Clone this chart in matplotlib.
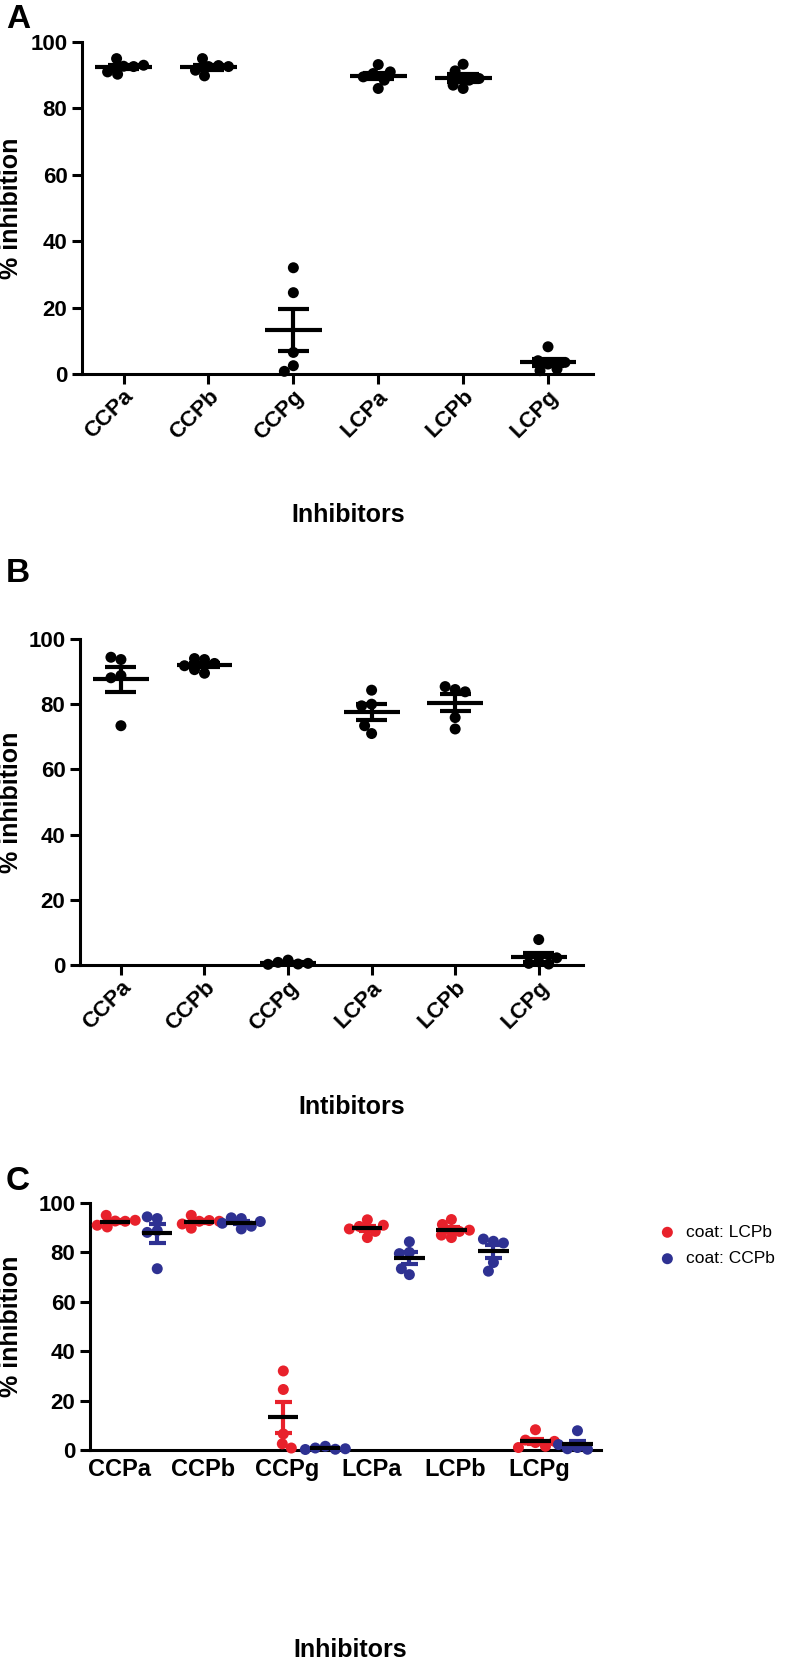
import matplotlib.pyplot as plt
import matplotlib.transforms as mtransforms
import numpy as np

plt.rcParams['font.family'] = ['Liberation Sans', 'DejaVu Sans']
plt.rcParams['font.weight'] = 'bold'
plt.rcParams['axes.labelweight'] = 'bold'

# inhibitor names on the x axis
inhibitors = ['CCPa', 'CCPb', 'CCPg', 'LCPa', 'LCPb', 'LCPg']

# panel A: coat LCPb (% inhibition, one value per replicate)
ccpa_lcpb = [92.7, 95.0, 92.6, 90.3, 91.0, 93.0]
ccpb_lcpb = [92.6, 95.0, 92.9, 89.8, 91.5, 92.6]
ccpg_lcpb = [32.0, 24.5, 6.5, 2.5, 0.8]
lcpa_lcpb = [93.2, 86.0, 90.5, 88.5, 91.0, 89.5]
lcpb_lcpb = [93.3, 86.0, 87.0, 91.3, 88.5, 89.0]
lcpg_lcpb = [8.2, 3.0, 4.0, 1.5, 1.0, 3.5]

# panel B: coat CCPb
ccpa_ccpb = [93.7, 94.4, 88.8, 88.1, 73.4]
ccpb_ccpb = [93.7, 94.0, 89.5, 90.6, 92.5, 91.8]
ccpg_ccpb = [1.5, 0.8, 0.3, 0.2, 0.5]
lcpa_ccpb = [84.3, 80.0, 71.0, 73.4, 79.5]
lcpb_ccpb = [84.5, 85.4, 83.8, 75.9, 72.4]
lcpg_ccpb = [7.8, 1.0, 0.5, 0.3, 2.2]

coat_lcpb = [ccpa_lcpb, ccpb_lcpb, ccpg_lcpb, lcpa_lcpb, lcpb_lcpb, lcpg_lcpb]
coat_ccpb = [ccpa_ccpb, ccpb_ccpb, ccpg_ccpb, lcpa_ccpb, lcpb_ccpb, lcpg_ccpb]

RED = '#e8212b'
BLUE = '#2e3192'
DOT = 11  # marker diameter in px

W, H = 789, 1669
fig = plt.figure(figsize=(W / 100, H / 100), dpi=100)


def box(l, r, t, b):
    return [l / W, 1 - b / H, (r - l) / W, (b - t) / H]


def swarm(ax, vals, xc):
    # spread points sideways so that dots don't overlap (like a GraphPad scatter)
    p0 = ax.transData.transform((0, 0))
    p1 = ax.transData.transform((1, 100))
    sx = p1[0] - p0[0]
    sy = (p1[1] - p0[1]) / 100
    cands = sorted(np.arange(-40, 41, 1.0), key=abs)
    placed, xs = [], []
    for v in vals:
        y = v * sy
        for c in cands:
            if all((c - px) ** 2 + (y - py) ** 2 >= (DOT * 0.9) ** 2 for px, py in placed):
                break
        placed.append((c, y))
        xs.append(xc + c / sx)
    return xs


def draw_group(ax, vals, x, color, mean_w, cap_w, err_color, mean_color='black'):
    ax.scatter(swarm(ax, vals, x), vals, s=(DOT / 1.389) ** 2, color=color,
               edgecolors='none', clip_on=False, zorder=3)
    m = np.mean(vals)
    se = np.std(vals, ddof=1) / np.sqrt(len(vals))
    ax.vlines(x, m - se, m + se, color=err_color, lw=3, zorder=4)
    ax.hlines([m - se, m + se], x - cap_w / 2, x + cap_w / 2, color=err_color, lw=3, zorder=4)
    ax.hlines(m, x - mean_w / 2, x + mean_w / 2, color=mean_color, lw=3, zorder=5)


def style(ax):
    for s in ['top', 'right']:
        ax.spines[s].set_visible(False)
    for s in ['left', 'bottom']:
        ax.spines[s].set_linewidth(2.2)
    ax.set_ylim(0, 100)
    ax.set_yticks(range(0, 101, 20))
    ax.tick_params(width=2.2, length=7, labelsize=16, direction='out')


def single_panel(ax, data, xlabel):
    ax.set_xlim(-0.49, 5.53)
    style(ax)
    for i, vals in enumerate(data):
        draw_group(ax, vals, i, 'black', 0.67, 0.37, 'black')
    ax.set_xticks(range(len(inhibitors)))
    ax.set_xticklabels(inhibitors, rotation=45, ha='right', va='center',
                       rotation_mode='anchor', fontsize=16)
    ax.tick_params(axis='x', pad=7)
    shift = mtransforms.ScaledTranslation(7 / 100, 0, fig.dpi_scale_trans)
    for lab in ax.get_xticklabels():
        lab.set_transform(lab.get_transform() + shift)
    ax.set_ylabel('% inhibition', fontsize=18)
    ax.set_xlabel(xlabel, fontsize=18)


axA = fig.add_axes(box(82, 593, 42, 374))
single_panel(axA, coat_lcpb, 'Inhibitors')
axA.yaxis.set_label_coords(-0.115, 0.5)
axA.xaxis.set_label_coords(0.52, -0.39)

axB = fig.add_axes(box(80, 583, 639, 965))
single_panel(axB, coat_ccpb, 'Intibitors')
axB.yaxis.set_label_coords(-0.113, 0.5)
axB.xaxis.set_label_coords(0.54, -0.40)

# panel C: both coats side by side
axC = fig.add_axes(box(90, 601, 1203, 1450))
axC.set_xlim(-0.3, 5.78)
style(axC)
for i in range(len(inhibitors)):
    draw_group(axC, coat_lcpb[i], i, RED, 0.36, 0.2, RED)
    draw_group(axC, coat_ccpb[i], i + 0.5, BLUE, 0.36, 0.2, BLUE)
axC.set_xticks(np.arange(len(inhibitors)) + 0.05)
axC.set_xticklabels(inhibitors, fontsize=17)
axC.tick_params(axis='x', length=0, pad=6)
axC.set_ylabel('% inhibition', fontsize=18)
axC.yaxis.set_label_coords(-0.131, 0.5)
axC.set_xlabel('Inhibitors', fontsize=18)
axC.xaxis.set_label_coords(0.51, -0.76)

h1 = axC.scatter([], [], s=(DOT / 1.389) ** 2, color=RED, edgecolors='none')
h2 = axC.scatter([], [], s=(DOT / 1.389) ** 2, color=BLUE, edgecolors='none')
axC.legend([h1, h2], ['coat: LCPb', 'coat: CCPb'], loc='upper left',
           bbox_to_anchor=(650 / W, 1 - 1216 / H), bbox_transform=fig.transFigure,
           frameon=False, prop={'size': 12.5, 'weight': 'normal'},
           handlelength=1.0, handletextpad=0.6, labelspacing=0.65, borderpad=0)

fig.text(6 / W, 1 - 4 / H, 'A', fontsize=24, va='top')
fig.text(6 / W, 1 - 558 / H, 'B', fontsize=24, va='top')
fig.text(6 / W, 1 - 1166 / H, 'C', fontsize=24, va='top')

plt.savefig('out.png', dpi=100)
